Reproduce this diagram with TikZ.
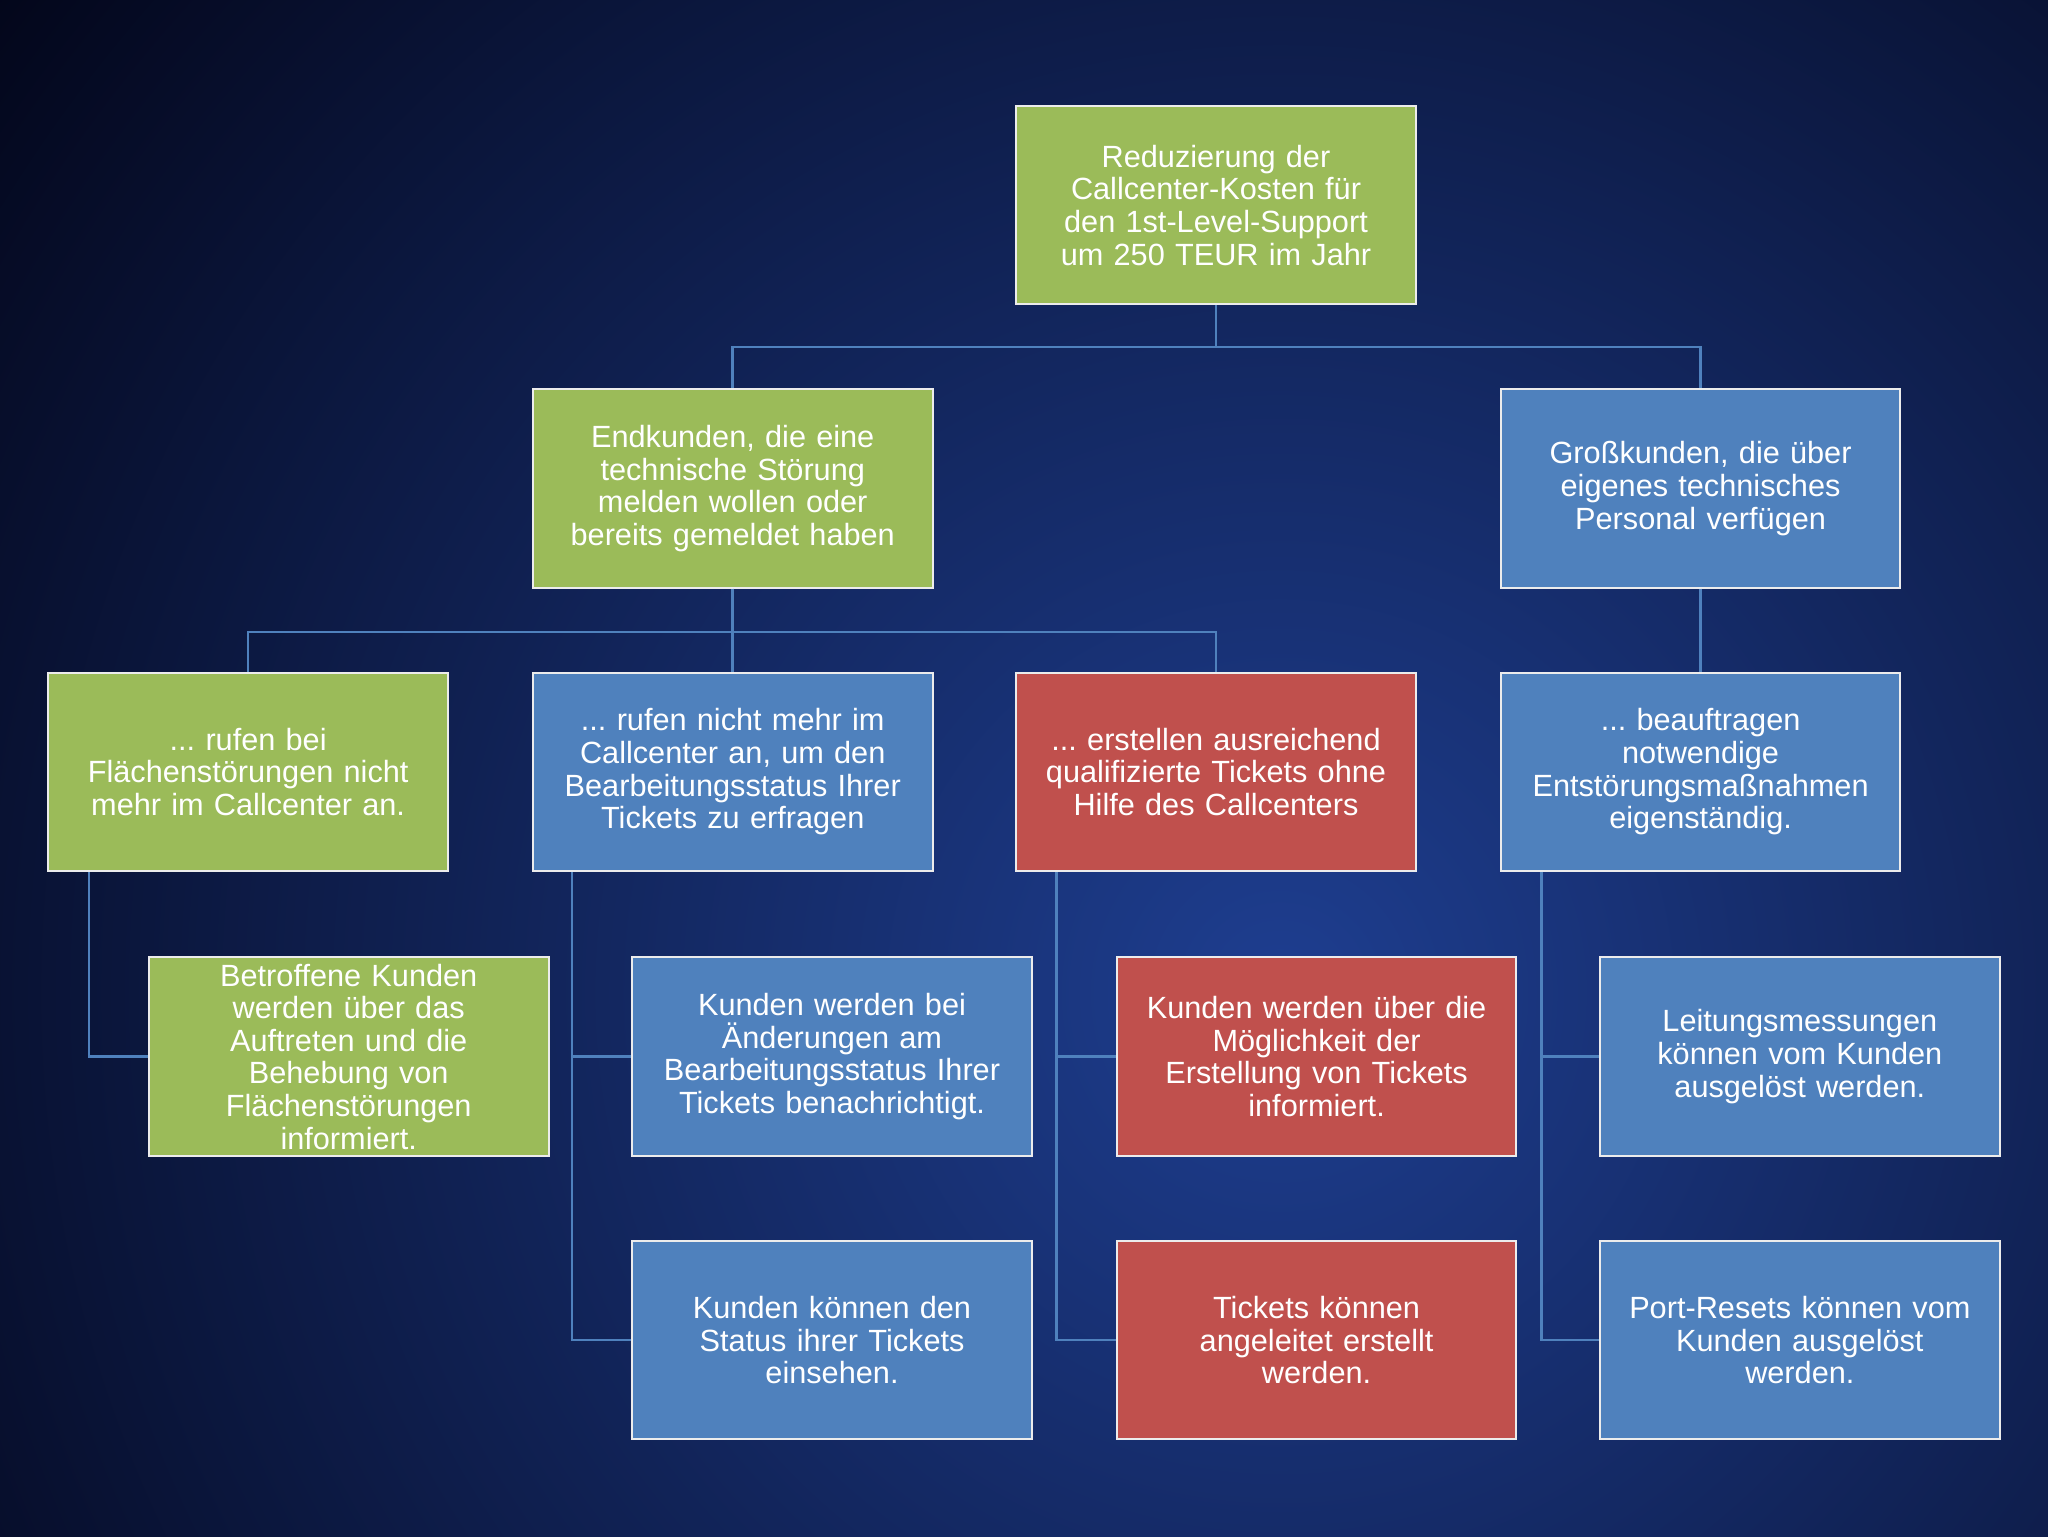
\documentclass[tikz,border=0pt]{standalone}
\usepackage{fontspec}
\setmainfont{Liberation Sans}
\frenchspacing
\definecolor{g}{HTML}{9BBB59}
\definecolor{b}{HTML}{4F81BD}
\definecolor{r}{HTML}{C0504D}
\definecolor{bgin}{HTML}{1E3E90}
\definecolor{bgout}{HTML}{03061A}
\begin{document}
\begin{tikzpicture}[x=1pt,y=-1pt,
 box/.style={draw=white!85!gray,line width=1.5pt,minimum width=306pt,minimum height=152pt,inner sep=2pt,
   text width=300pt,align=center,text=white,font=\fontsize{23.5}{25}\selectfont},
 G/.style={box,fill=g},B/.style={box,fill=b},R/.style={box,fill=r},
 ln/.style={draw=b,line width=2pt}]
\path[use as bounding box] (0,0) rectangle (1568,1176);
\begin{scope}
\clip (0,0) rectangle (1568,1176);
\fill[bgout] (0,0) rectangle (1568,1176);
\shade[inner color=bgin,outer color=bgout] (980,760) circle (1250);
\end{scope}
\node[G] (root) at (931,157) {Reduzierung der\\Callcenter-Kosten für\\den 1st-Level-Support\\um 250 TEUR im Jahr};
\node[G] (end) at (561,374) {Endkunden, die eine\\technische Störung\\melden wollen oder\\bereits gemeldet haben};
\node[B] (gross) at (1302,374) {Großkunden, die über\\eigenes technisches\\Personal verfügen};
\node[G] (a) at (190,591) {... rufen bei\\Flächenstörungen nicht\\mehr im Callcenter an.};
\node[B] (b) at (561,591) {... rufen nicht mehr im\\Callcenter an, um den\\Bearbeitungsstatus Ihrer\\Tickets zu erfragen};
\node[R] (c) at (931,591) {... erstellen ausreichend\\qualifizierte Tickets ohne\\Hilfe des Callcenters};
\node[B] (d) at (1302,591) {... beauftragen\\notwendige\\Entstörungsmaßnahmen\\eigenständig.};
\node[G] (a1) at (267,809) {Betroffene Kunden\\werden über das\\Auftreten und die\\Behebung von\\Flächenstörungen\\informiert.};
\node[B] (b1) at (637,809) {Kunden werden bei\\Änderungen am\\Bearbeitungsstatus Ihrer\\Tickets benachrichtigt.};
\node[R] (c1) at (1008,809) {Kunden werden über die\\Möglichkeit der\\Erstellung von Tickets\\informiert.};
\node[B] (d1) at (1378,809) {Leitungsmessungen\\können vom Kunden\\ausgelöst werden.};
\node[B] (b2) at (637,1026) {Kunden können den\\Status ihrer Tickets\\einsehen.};
\node[R] (c2) at (1008,1026) {Tickets können\\angeleitet erstellt\\werden.};
\node[B] (d2) at (1378,1026) {Port-Resets können vom\\Kunden ausgelöst\\werden.};
\draw[ln] (root.south) -- ++(0,32) -| (end.north);
\draw[ln] (root.south) ++(0,32) -| (gross.north);
\draw[ln] (end.south) -- ++(0,33) -| (a.north);
\draw[ln] (end.south) ++(0,33) -| (c.north);
\draw[ln] (end.south) -- (b.north);
\draw[ln] (gross.south) -- (d.north);
\draw[ln] ([xshift=-122pt]a.south) |- (a1.west);
\draw[ln] ([xshift=-123pt]b.south) |- (b1.west);
\draw[ln] ([xshift=-123pt]b.south) |- (b2.west);
\draw[ln] ([xshift=-122pt]c.south) |- (c1.west);
\draw[ln] ([xshift=-122pt]c.south) |- (c2.west);
\draw[ln] ([xshift=-122pt]d.south) |- (d1.west);
\draw[ln] ([xshift=-122pt]d.south) |- (d2.west);
\end{tikzpicture}
\end{document}
